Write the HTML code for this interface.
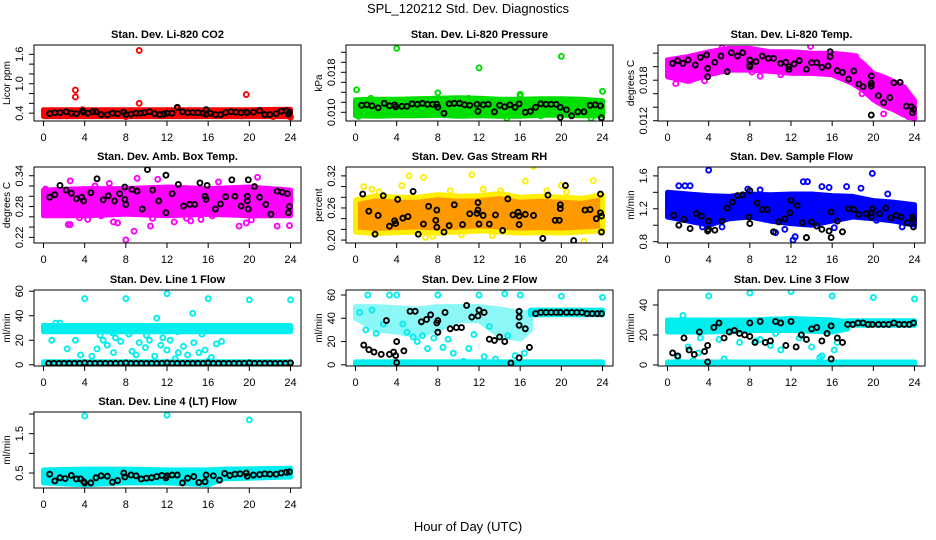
<!DOCTYPE html>
<html><head><meta charset="utf-8"><style>
html,body{margin:0;padding:0;background:#fff;}
svg{display:block;font-family:"Liberation Sans",Arial,sans-serif;}
</style></head><body>
<svg id="chart" width="936" height="540" viewBox="0 0 936 540" xmlns="http://www.w3.org/2000/svg">
<text x="468" y="13" text-anchor="middle" font-size="13">SPL_120212  Std. Dev. Diagnostics</text>
<text x="468" y="531" text-anchor="middle" font-size="13">Hour of Day (UTC)</text>
</svg>
<script>
// ---------- data ----------
const xTicks = [0,4,8,12,16,20,24];

const co2BandH = [0,4,8,12,16,20,24];
const co2BandLo = [0.33,0.33,0.33,0.33,0.33,0.33,0.33];
const co2BandHi = [0.47,0.47,0.47,0.47,0.47,0.47,0.48];
const co2OutX = [3.1,3.1,9.3,9.3,19.7,24,22.3,8,3.8,13];
const co2OutY = [0.87,0.73,1.68,0.6,0.78,0.32,0.33,0.33,0.47,0.5];
const co2BlkX = [0.6,1.1,1.6,2.2,2.7,3.2,3.8,3.9,4.3,4.8,5.1,5.6,6.2,6.7,7.2,7.8,8.0,8.5,9.0,9.4,9.8,10.3,10.8,11.3,11.7,12.0,12.5,13.0,13.5,14.0,14.5,15.0,15.5,15.8,15.8,16.2,16.7,17.2,17.7,18.2,18.7,19.2,19.7,19.8,20.4,21.0,21.5,22.0,22.6,23.1,23.6,23.8,23.9];
const co2BlkY = [0.39,0.41,0.41,0.43,0.40,0.39,0.45,0.42,0.40,0.43,0.43,0.37,0.37,0.40,0.39,0.42,0.37,0.38,0.40,0.40,0.41,0.43,0.39,0.37,0.38,0.40,0.40,0.52,0.43,0.41,0.41,0.41,0.40,0.47,0.38,0.40,0.37,0.37,0.41,0.43,0.42,0.41,0.42,0.41,0.42,0.45,0.37,0.37,0.39,0.44,0.45,0.38,0.42];

const presBandH = [0,2,4,6,8,10,12,14,16,18,20,22,24];
const presBandLo = [0.0093,0.0092,0.0093,0.0093,0.0094,0.0092,0.0093,0.0092,0.0092,0.0094,0.0094,0.0093,0.0093];
const presBandHi = [0.0125,0.0126,0.0126,0.0127,0.0128,0.0129,0.0128,0.0126,0.0126,0.0127,0.0127,0.0126,0.0123];
const presOutX = [0.1,1.5,4,8,8,12,16,16,20,24,0.3,14.7,22.9,11,18];
const presOutY = [0.0145,0.0128,0.0228,0.0139,0.0122,0.0189,0.0136,0.0133,0.0212,0.0142,0.0092,0.0088,0.0088,0.0128,0.0093];
const presBlkX = [0.6,1.1,1.6,2.2,2.8,3.3,3.8,3.9,4.5,5.0,5.5,6.0,6.5,7.0,7.5,7.9,8.0,8.6,9.1,9.6,10.1,10.6,11.1,11.8,11.9,12.4,12.9,13.5,14.0,14.5,15.0,15.5,15.9,16.5,17.0,17.5,18.0,18.5,19.0,19.5,19.9,19.9,20.5,21.0,21.6,22.2,22.8,23.3,23.8,23.9];
const presBlkY = [0.0114,0.0115,0.0113,0.0109,0.0118,0.0113,0.0115,0.0111,0.0112,0.0112,0.0117,0.0116,0.0118,0.0116,0.0116,0.0116,0.0110,0.0098,0.0117,0.0118,0.0118,0.0115,0.0114,0.0116,0.0102,0.0115,0.0116,0.0101,0.0114,0.0111,0.0115,0.0110,0.0117,0.0100,0.0102,0.0110,0.0117,0.0116,0.0116,0.0116,0.0090,0.0110,0.0105,0.0093,0.0101,0.0101,0.0114,0.0115,0.0113,0.0089];

const tempBandH = [0,2,4,6,8,10,12,14,16,18,19,20,21,22,23,24];
const tempBandHi = [0.0210,0.0215,0.0222,0.0227,0.0227,0.0222,0.0222,0.0220,0.0220,0.0217,0.0205,0.0190,0.0185,0.0178,0.0170,0.0150];
const tempBandLo = [0.0185,0.0178,0.0188,0.0195,0.0195,0.0193,0.0190,0.0190,0.0188,0.0175,0.0165,0.0151,0.0142,0.0136,0.0128,0.0123];
const tempOutX = [0.2,0.8,2.2,3.1,3.6,5.3,8.2,9,11,13.9,18.3,18.9,21,22,23.4];
const tempOutY = [0.0186,0.0175,0.0180,0.0185,0.0179,0.0228,0.0192,0.0186,0.0188,0.0230,0.0215,0.0160,0.0130,0.0141,0.0126];
const tempBlkX = [0.5,1,1.5,2,2.7,3.2,3.8,3.9,3.9,4.6,5.2,5.8,6.2,6.8,7.3,8,8,8,8.6,9.2,9.8,10.3,11,11.5,11.8,11.8,12.3,12.8,13.5,14,14.5,15,15.6,15.8,15.8,16.5,17,17.6,18.1,18.6,19,19.8,19.8,19.8,19.8,20.5,21,21.6,22,22.6,23.2,23.7,23.8,23.9];
const tempBlkY = [0.02049,0.02089,0.02049,0.02099,0.02025,0.02138,0.02173,0.01975,0.01852,0.02064,0.02158,0.01926,0.02207,0.02158,0.02207,0.02099,0.02025,0.02000,0.02074,0.02158,0.02123,0.02123,0.02049,0.02064,0.02000,0.01960,0.02040,0.02089,0.01960,0.02059,0.02059,0.01990,0.02010,0.02222,0.02148,0.01941,0.01916,0.01817,0.01936,0.01743,0.01704,0.01862,0.01753,0.01714,0.01284,0.01570,0.01467,0.01541,0.01763,0.01768,0.01417,0.01407,0.01319,0.01368];

const ambBandH = [0,4,8,12,16,20,24];
const ambBandLo = [0.262,0.262,0.265,0.262,0.265,0.262,0.262];
const ambBandHi = [0.312,0.315,0.315,0.318,0.315,0.318,0.312];
const ambOutX = [0.2,0.1,2.4,2.6,2.6,4.3,5.6,6,6.8,7.2,8,8.8,9.1,10.4,10.6,11.1,12.7,14.3,16.4,17,19,19.7,20.2,20.8,22.7,23.9,13.9,11.4,5,6.4,1.3,3.5,15.3];
const ambOutY = [0.314,0.276,0.245,0.245,0.330,0.255,0.262,0.270,0.250,0.248,0.215,0.232,0.335,0.242,0.257,0.333,0.250,0.252,0.262,0.328,0.242,0.248,0.254,0.337,0.242,0.243,0.257,0.295,0.320,0.325,0.265,0.258,0.255];
const ambBlkX = [0.6,1.1,1.6,2.2,2.7,3.2,3.7,3.9,4.6,5.2,5.8,6.3,6.9,7.4,7.9,7.9,8,8.6,9.1,9.6,10.1,10.6,11.2,11.9,11.9,12.5,13.1,13.6,14.2,14.7,15.2,15.7,15.8,15.9,16.7,17.2,17.7,18.3,18.6,19.2,19.8,19.8,19.9,19.9,20.5,21,21.6,22.1,22.7,23.2,23.7,23.8,23.9];
const ambBlkY = [0.298,0.303,0.321,0.312,0.306,0.295,0.298,0.291,0.307,0.334,0.293,0.301,0.291,0.305,0.318,0.294,0.284,0.313,0.310,0.275,0.352,0.312,0.291,0.268,0.341,0.305,0.323,0.281,0.284,0.284,0.326,0.300,0.294,0.321,0.275,0.285,0.299,0.332,0.300,0.281,0.300,0.291,0.275,0.332,0.319,0.298,0.284,0.265,0.310,0.308,0.305,0.268,0.280];

const rhBandH = [0,2,4,6,8,10,12,14,16,18,20,22,24];
const rhBandLo = [0.215,0.212,0.214,0.215,0.213,0.215,0.217,0.215,0.213,0.214,0.213,0.215,0.217];
const rhBandHi = [0.275,0.283,0.280,0.280,0.285,0.282,0.283,0.287,0.280,0.282,0.280,0.278,0.285];
const rhOutX = [0.8,5.2,6.6,4.5,11.3,12.4,20.5,20,17.3,16.5,23.1,6.8,22.2,7.5,1.6,2.3,9.2,14.1,18.6,10.3,13.3];
const rhOutY = [0.300,0.320,0.317,0.302,0.322,0.295,0.290,0.302,0.338,0.310,0.311,0.205,0.198,0.207,0.295,0.290,0.292,0.292,0.292,0.210,0.208];
const rhBlkX = [0.7,1.3,1.9,2.2,2.7,3.3,3.8,3.9,4.1,4.6,5.1,5.6,6.1,6.6,7.1,7.8,7.9,7.9,8.6,9.1,9.6,10.4,11.1,11.8,11.9,11.9,12.0,12.4,13.0,13.6,14.3,14.8,15.3,15.8,15.9,15.9,16.5,17.3,18.2,18.7,19.4,19.8,19.9,19.9,20.4,21.2,22.3,22.8,23.4,23.8,23.8,23.9,23.9];
const rhBlkY = [0.286,0.254,0.211,0.246,0.283,0.226,0.236,0.231,0.276,0.241,0.244,0.291,0.211,0.230,0.263,0.237,0.224,0.256,0.215,0.227,0.266,0.229,0.249,0.250,0.256,0.270,0.230,0.246,0.230,0.247,0.218,0.277,0.247,0.252,0.245,0.229,0.248,0.246,0.203,0.284,0.237,0.237,0.259,0.266,0.302,0.199,0.256,0.257,0.240,0.286,0.251,0.245,0.215];

const flowBandH = [0,2,4,6,8,10,12,14,16,18,20,22,24];
const flowBandLo = [1.10,1.05,1.00,1.08,1.10,1.05,1.02,1.00,1.05,1.10,1.08,1.05,1.00];
const flowBandHi = [1.40,1.38,1.36,1.35,1.38,1.37,1.38,1.38,1.36,1.35,1.30,1.28,1.25];
const flowOutX = [4,19.9,13.2,13.6,1.7,2.2,12.2,12.4,13.5,15,15.7,9,17.4,21.4,10.5,3.4,5.3,7.8,16.2,18.8,20.3,22.8,1.1,11.4];
const flowOutY = [1.67,1.63,1.53,1.53,1.48,1.48,0.82,0.86,0.85,1.47,1.46,1.43,1.47,1.38,0.91,0.98,0.98,1.44,0.97,1.45,1.06,0.98,1.48,0.95];
const flowBlkX = [0.6,1.1,1.6,2.2,2.8,3.3,3.9,4,4,4.6,5.3,5.8,6.3,6.8,7.3,7.9,8,8,8.7,9.2,9.7,10.3,10.8,11.4,11.9,12,12.6,13.1,13.5,14,14.5,15,15.7,15.9,15.9,16.5,17,17.6,18.1,18.6,19.3,19.8,19.8,19.9,20.6,21.2,21.7,22.2,22.7,23.3,23.8,23.9,23.9];
const flowBlkY = [1.12,1.00,1.07,0.96,1.14,1.11,0.93,0.95,1.05,0.94,1.05,1.21,1.28,1.36,1.37,1.10,1.02,1.42,1.27,1.19,1.19,0.92,1.04,1.08,1.15,1.30,1.24,1.03,0.85,1.04,0.99,0.95,0.93,1.16,0.85,1.05,0.92,1.20,1.19,1.13,1.14,1.10,1.15,1.20,1.14,1.21,1.09,1.12,1.10,1.03,1.10,1.07,0.98];

const l1BandAH = [0,24];
const l1BandALo = [27,27];
const l1BandAHi = [32,32];
const l1BandBH = [0,24];
const l1BandBLo = [0.3,0.3];
const l1BandBHi = [2.5,2.5];
const l1OutX = [4,8,12,16,20,24,14.5,11,0.8,2.3,3.1,3.6,4.7,5.2,5.8,6.2,6.8,7,7.5,8.6,9,9.3,9.9,10.3,10.8,11.4,12,12.3,12.8,13.1,13.6,14,14.6,15.1,15.7,16,16.3,16.8,17.3,5.5,6.7,8.3,10,11.6,13,15.4,1.2,1.6];
const l1OutY = [54,54,58,54,53,53,42,38,20,13,20,8,7,13,20,16,10,22,19,11,8,18,14,20,7,16,12,20,5,10,15,8,18,10,12,3,6,17,19,24,26,25,24,22,27,25,34,34];
const l1BlkX = [0.5,1,1.5,2,2.5,3,3.5,4,4.5,5,5.5,6,6.5,7,7.5,8,8.5,9,9.5,10,10.5,11,11.5,12,12.5,13,13.5,14,14.5,15,15.5,16,16.5,17,17.5,18,18.5,19,19.5,20,20.5,21,21.5,22,22.5,23,23.5,24];
const l1BlkY = [1.2,1.2,1.2,1.2,1.2,1.2,1.2,1.5,1.2,1.2,1.2,1.2,1.2,1.2,1.2,1.5,1.2,1.2,1.2,1.2,1.2,1.2,1.2,1.5,1.2,1.2,1.2,1.2,1.2,1.2,1.2,1.5,1.2,1.2,1.2,1.2,1.2,1.2,1.2,1.5,1.2,1.2,1.2,1.2,1.2,1.2,1.2,1.5];

const l2BandAH = [0,2,4,6,8,10,12,14,16,17];
const l2BandALo = [40,30,28,25,30,38,38,25,22,30];
const l2BandAHi = [50,50,49,48,50,50,50,48,45,45];
const l2BandBH = [17,24];
const l2BandBLo = [43,43];
const l2BandBHi = [47,47];
const l2BandCH = [0,24];
const l2BandCLo = [0.3,0.3];
const l2BandCHi = [2.5,2.5];
const l2OutX = [1.2,4,8,12,16,20,24,14.5,3.3,2.7,6,9.5,11,13.6,7,10.5,5,8.5,3.7,15.5,16.4,12.5,1,2,4.6,6.5,9,11.5,13,14.8,0.4,1.6,5.6,7.6];
const l2OutY = [60,60,60,60,60,59,58,61,60,35,20,10,14,5,14,3,28,15,2,8,10,7,30,27,35,25,22,26,33,25,45,47,24,23];
const l2BlkX = [0.8,1.3,1.8,2.5,3,3.3,3.7,3.9,4,4,4.7,5.3,5.8,6.4,6.9,7.3,7.9,8,8,8.7,9.2,9.8,10.3,10.8,11.3,11.9,12,12.5,13,13.5,14,14.5,15.1,15.9,15.9,15.9,15.9,16.5,16.9,17.5,18,18.5,19,19.5,19.9,20.5,21,21.5,22,22.5,23,23.5,23.9];
const l2BlkY = [17,13,11,9,38,9,11,8,20,2,12,46,46,37,39,43,36,38,28,45,31,32,32,51,41,42,47,45,22,21,24,20,1.5,46,41,34,6,31,15,44,45,45,45,45,45,45,45,45,45,44,44,44,44];

const l3BandAH = [0,4,8,12,16,17.5];
const l3BandALo = [22,22,23,23,22,24];
const l3BandAHi = [30,30,30,31,30,29];
const l3BandBH = [17.5,24];
const l3BandBLo = [26.5,26.5];
const l3BandBHi = [29.5,29.5];
const l3BandCH = [0,24];
const l3BandCLo = [0.3,0.3];
const l3BandCHi = [2,2];
const l3OutX = [4,8,12,16,20,24,1,2,3,5,6,7,9,10,11,13,14,15,16.5,2.5,5.5,1.5,3.2,8.6,10.5,12.8,14.8,16.2];
const l3OutY = [46,48,49,46,45,44,5,12,8,17,22,15,17,13,10,20,12,6,15,3,4,33,18,16,21,18,5,10];
const l3BlkX = [0.5,1,1.6,2.1,2.6,3.1,3.6,3.9,3.9,4.5,5,5.5,6,6.5,7,7.5,8,8,8.5,9,9.5,10,10.5,11,11.5,12,12.5,13,13.5,14,14.5,15,15.5,15.9,15.9,16.5,17,17.5,18,18.5,19,19.5,19.9,20.5,21,21.5,22,22.5,23,23.5,23.9];
const l3BlkY = [8,6,18,10,7,22,9,13,2,25,28,18,22,23,21,20,28,19,15,29,15,16,29,28,13,29,12,20,17,24,25,16,21,26,4,18,15,27,27,28,28,27,27,27,27,27,28,27,27,27,28];

const l4BandH = [0,4,8,12,16,17.5,24];
const l4BandLo = [0.25,0.20,0.25,0.25,0.20,0.35,0.40];
const l4BandHi = [0.58,0.60,0.60,0.58,0.58,0.60,0.62];
const l4OutX = [4,12,20];
const l4OutY = [1.95,1.97,1.85];
const l4BlkX = [0.6,1.1,1.6,2.1,2.7,3.2,3.6,3.9,4,4.6,5.1,5.6,6.2,6.7,7.2,7.8,7.9,8.5,9,9.5,10,10.5,11,11.5,11.9,12,12.5,13,13.5,14,14.6,15.1,15.7,15.8,16.5,17.1,17.6,18.1,18.6,19.1,19.7,19.8,20.4,21,21.5,22,22.6,23.1,23.6,23.9];
const l4BlkY = [0.47,0.30,0.38,0.36,0.44,0.35,0.35,0.28,0.25,0.25,0.38,0.43,0.42,0.27,0.31,0.50,0.40,0.45,0.43,0.35,0.37,0.38,0.41,0.44,0.38,0.43,0.45,0.45,0.25,0.37,0.41,0.26,0.28,0.45,0.43,0.32,0.49,0.44,0.47,0.48,0.50,0.42,0.45,0.46,0.48,0.47,0.47,0.50,0.52,0.53];

// ---------- layout ----------
const colL = [34,346,658];
const rowT = [45,167,290,412];
const BW = 267, BH = 76;

const panels = [
 {name:'co2', title:'Stan. Dev. Li-820 CO2', ylab:'Licor ppm', c:0, r:0, ymin:0.24, ymax:1.79, ticks:[0.4,0.6,0.8,1.0,1.2,1.4,1.6], labels:['0.4','1.0','1.6'], color:'#ff0000',
  bands:[[co2BandH,co2BandLo,co2BandHi,1]], ox:co2OutX, oy:co2OutY, bx:co2BlkX, by:co2BlkY},
 {name:'pressure', title:'Stan. Dev. Li-820 Pressure', ylab:'kPa', c:1, r:0, ymin:0.00826, ymax:0.02346, ticks:[0.010,0.012,0.014,0.016,0.018,0.020,0.022], labels:['0.010','0.018'], color:'#00dd00',
  bands:[[presBandH,presBandLo,presBandHi,1]], ox:presOutX, oy:presOutY, bx:presBlkX, by:presBlkY},
 {name:'li820-temp', title:'Stan. Dev. Li-820 Temp.', ylab:'degrees C', c:2, r:0, ymin:0.01196, ymax:0.02321, ticks:[0.012,0.014,0.016,0.018,0.020,0.022], labels:['0.012','0.018'], color:'#ff00ff',
  bands:[[tempBandH,tempBandLo,tempBandHi,1]], ox:tempOutX, oy:tempOutY, bx:tempBlkX, by:tempBlkY},
 {name:'amb-box-temp', title:'Stan. Dev. Amb. Box Temp.', ylab:'degrees C', c:0, r:1, ymin:0.209, ymax:0.357, ticks:[0.22,0.24,0.26,0.28,0.30,0.32,0.34], labels:['0.22','0.28','0.34'], color:'#ff00ff',
  bands:[[ambBandH,ambBandLo,ambBandHi,1]], ox:ambOutX, oy:ambOutY, bx:ambBlkX, by:ambBlkY},
 {name:'gas-stream-rh', title:'Stan. Dev. Gas Stream RH', ylab:'percent', c:1, r:1, ymin:0.1945, ymax:0.3366, ticks:[0.20,0.22,0.24,0.26,0.28,0.30,0.32], labels:['0.20','0.26','0.32'], color:'#ff9900',
  bands:[[rhBandH,rhBandLo,rhBandHi,1]], ox:rhOutX, oy:rhOutY, bx:rhBlkX, by:rhBlkY, ring:'#ffee00'},
 {name:'sample-flow', title:'Stan. Dev. Sample Flow', ylab:'ml/min', c:2, r:1, ymin:0.784, ymax:1.708, ticks:[0.8,1.0,1.2,1.4,1.6], labels:['0.8','1.2','1.6'], color:'#0000ff',
  bands:[[flowBandH,flowBandLo,flowBandHi,1]], ox:flowOutX, oy:flowOutY, bx:flowBlkX, by:flowBlkY},
 {name:'line1-flow', title:'Stan. Dev. Line 1 Flow', ylab:'ml/min', c:0, r:2, ymin:-1, ymax:61, ticks:[0,20,40,60], labels:['0','20','40','60'], color:'#00eeee',
  bands:[[l1BandAH,l1BandALo,l1BandAHi,1],[l1BandBH,l1BandBLo,l1BandBHi,1]], ox:l1OutX, oy:l1OutY, bx:l1BlkX, by:l1BlkY},
 {name:'line2-flow', title:'Stan. Dev. Line 2 Flow', ylab:'ml/min', c:1, r:2, ymin:-1, ymax:64.3, ticks:[0,20,40,60], labels:['0','20','40','60'], color:'#00eeee',
  bands:[[l2BandAH,l2BandALo,l2BandAHi,0.45],[l2BandBH,l2BandBLo,l2BandBHi,1],[l2BandCH,l2BandCLo,l2BandCHi,1]], ox:l2OutX, oy:l2OutY, bx:l2BlkX, by:l2BlkY},
 {name:'line3-flow', title:'Stan. Dev. Line 3 Flow', ylab:'ml/min', c:2, r:2, ymin:-0.7, ymax:50, ticks:[0,20,40], labels:['0','20','40'], color:'#00eeee',
  bands:[[l3BandAH,l3BandALo,l3BandAHi,1],[l3BandBH,l3BandBLo,l3BandBHi,1],[l3BandCH,l3BandCLo,l3BandCHi,1]], ox:l3OutX, oy:l3OutY, bx:l3BlkX, by:l3BlkY},
 {name:'line4-flow', title:'Stan. Dev. Line 4 (LT) Flow', ylab:'ml/min', c:0, r:3, ymin:0.12, ymax:2.05, ticks:[0.5,1.0,1.5,2.0], labels:['0.5','1.5'], color:'#00eeee',
  bands:[[l4BandH,l4BandLo,l4BandHi,1]], ox:l4OutX, oy:l4OutY, bx:l4BlkX, by:l4BlkY}
];

const NS = 'http://www.w3.org/2000/svg';
const svg = document.getElementById('chart');
function mk(tag, attrs, parent){
  const e = document.createElementNS(NS, tag);
  for (const k in attrs) e.setAttribute(k, attrs[k]);
  parent.appendChild(e);
  return e;
}

panels.forEach(p => {
  const L = colL[p.c], T = rowT[p.r];
  const xs = h => L + 9.5 + h * (247/24);
  const ys = v => T + BH - (v - p.ymin) / (p.ymax - p.ymin) * BH;
  const g = mk('g', {}, svg);
  
  

  const t = mk('text', {x: L + BW/2, y: T - 7, 'text-anchor':'middle', 'font-size':'11', 'font-weight':'bold'}, g);
  t.textContent = p.title;
  
  

  const clip = mk('clipPath', {id: 'clip-' + p.name}, g);
  mk('rect', {x: L, y: T, width: BW, height: BH}, clip);
  const plot = mk('g', {'clip-path': 'url(#clip-' + p.name + ')'}, g);
  
  

  p.bands.forEach(b => {
    const [H, LO, HI, op] = b;
    let pts = [];
    for (let i = 0; i < H.length; i++) pts.push(xs(H[i]).toFixed(1) + ',' + ys(HI[i]).toFixed(1));
    for (let i = H.length - 1; i >= 0; i--) pts.push(xs(H[i]).toFixed(1) + ',' + ys(LO[i]).toFixed(1));
    const poly = mk('polygon', {points: pts.join(' '), fill: p.color, stroke: p.ring || p.color, 'stroke-width': 5, 'stroke-linejoin': 'round', opacity: op}, plot);
    
    
  });

  for (let i = 0; i < p.ox.length; i++) {
    const c = mk('circle', {cx: xs(p.ox[i]), cy: ys(p.oy[i]), r: 2.5, fill: 'none', stroke: p.ring || p.color, 'stroke-width': 1.9}, plot);
    
    
  }
  for (let i = 0; i < p.bx.length; i++) {
    const c = mk('circle', {cx: xs(p.bx[i]), cy: ys(p.by[i]), r: 2.5, fill: 'none', stroke: '#000', 'stroke-width': 1.9}, plot);
    
    
  }

  const box = mk('rect', {x: L, y: T, width: BW, height: BH, fill: 'none', stroke: '#000', 'stroke-width': 1}, g);
  
  

  xTicks.forEach(h => {
    mk('line', {x1: xs(h), x2: xs(h), y1: T + BH, y2: T + BH + 5, stroke: '#000'}, g);
    const tx = mk('text', {x: xs(h), y: T + BH + 20, 'text-anchor': 'middle', 'font-size': '11'}, g);
    tx.textContent = h;
    
    
  });
  p.ticks.forEach(v => {
    mk('line', {x1: L - 5, x2: L, y1: ys(v), y2: ys(v), stroke: '#000'}, g);
  });
  p.labels.forEach(s => {
    const v = parseFloat(s);
    const ty = mk('text', {x: L - 11, y: ys(v), 'text-anchor': 'middle', 'font-size': '11', transform: 'rotate(-90 ' + (L - 11) + ' ' + ys(v) + ')'}, g);
    ty.textContent = s;
    
    
  });
  const yl = mk('text', {x: L - 24, y: T + BH/2, 'text-anchor': 'middle', 'font-size': '10', transform: 'rotate(-90 ' + (L - 24) + ' ' + (T + BH/2) + ')'}, g);
  yl.textContent = p.ylab;
  
  
});
</script>
</body></html>
